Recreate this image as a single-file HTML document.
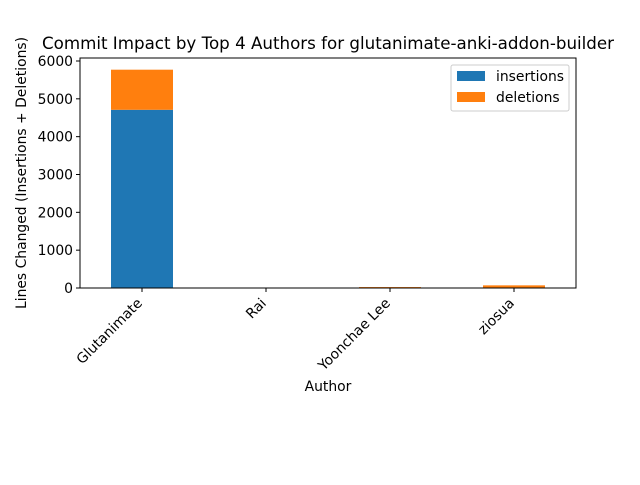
<!DOCTYPE html>
<html><head><meta charset="utf-8"><style>
body{margin:0;background:#fff}
text{font-family:"DejaVu Sans","Liberation Sans",sans-serif;fill:#000}
</style></head><body>
<svg id="chart" width="640" height="480" xmlns="http://www.w3.org/2000/svg">
<rect width="640" height="480" fill="#fff"/>
<text x="328" y="49" font-size="16.7" text-anchor="middle">Commit Impact by Top 4 Authors for glutanimate-anki-addon-builder</text>
<g id="bars"></g><g id="axes"></g>
<text x="328" y="391" font-size="13.9" text-anchor="middle">Author</text>
<text transform="translate(26,173) rotate(-90)" font-size="13.9" text-anchor="middle">Lines Changed (Insertions + Deletions)</text>
<g>
<rect x="451" y="65" width="118" height="46" fill="#fff" stroke="#ccc" rx="2"/>
<rect x="457" y="71" width="28" height="10" fill="#1f77b4"/>
<text x="496" y="81" font-size="13.9">insertions</text>
<rect x="457" y="92" width="28" height="10" fill="#ff7f0e"/>
<text x="496" y="102" font-size="13.9">deletions</text>
</g>
</svg>
<script>
const authors=["Glutanimate","Rai","Yoonchae Lee","ziosua"];
const insertions=[4710,2,10,10];
const deletions=[1060,1,15,60];
const yTicks=[0,1000,2000,3000,4000,5000,6000];
const L=80,R=576,T=58,B=288,ymax=6079;
const x=i=>L+(i+0.5)*(R-L)/authors.length;
const y=v=>B-v/ymax*(B-T);
const ns="http://www.w3.org/2000/svg";
function mk(t,a,p){const e=document.createElementNS(ns,t);for(const k in a)e.setAttribute(k,a[k]);p.appendChild(e);return e;}
const bars=document.getElementById('bars'),axes=document.getElementById('axes');
const bw=(R-L)/authors.length*0.5;
authors.forEach((a,i)=>{
 const r1=mk('rect',{x:x(i)-bw/2,y:y(insertions[i]),width:bw,height:B-y(insertions[i]),fill:'#1f77b4'},bars);
 
 
 const r2=mk('rect',{x:x(i)-bw/2,y:y(insertions[i]+deletions[i]),width:bw,height:y(insertions[i])-y(insertions[i]+deletions[i]),fill:'#ff7f0e'},bars);
 
 
 mk('line',{x1:x(i),x2:x(i),y1:B,y2:B+4,stroke:'#000'},axes);
 const t=mk('text',{transform:`translate(${x(i)+1},${B+16}) rotate(-45)`,'font-size':13.9,'text-anchor':'end'},axes);
 t.textContent=a;
 
 
});
yTicks.forEach(v=>{
 mk('line',{x1:L-4,x2:L,y1:y(v),y2:y(v),stroke:'#000'},axes);
 const t=mk('text',{x:L-7,y:y(v)+5,'font-size':13.9,'text-anchor':'end'},axes);
 t.textContent=v;
 
 
});
const f=mk('rect',{x:L,y:T,width:R-L,height:B-T,fill:'none',stroke:'#000'},axes);


</script>
</body></html>
